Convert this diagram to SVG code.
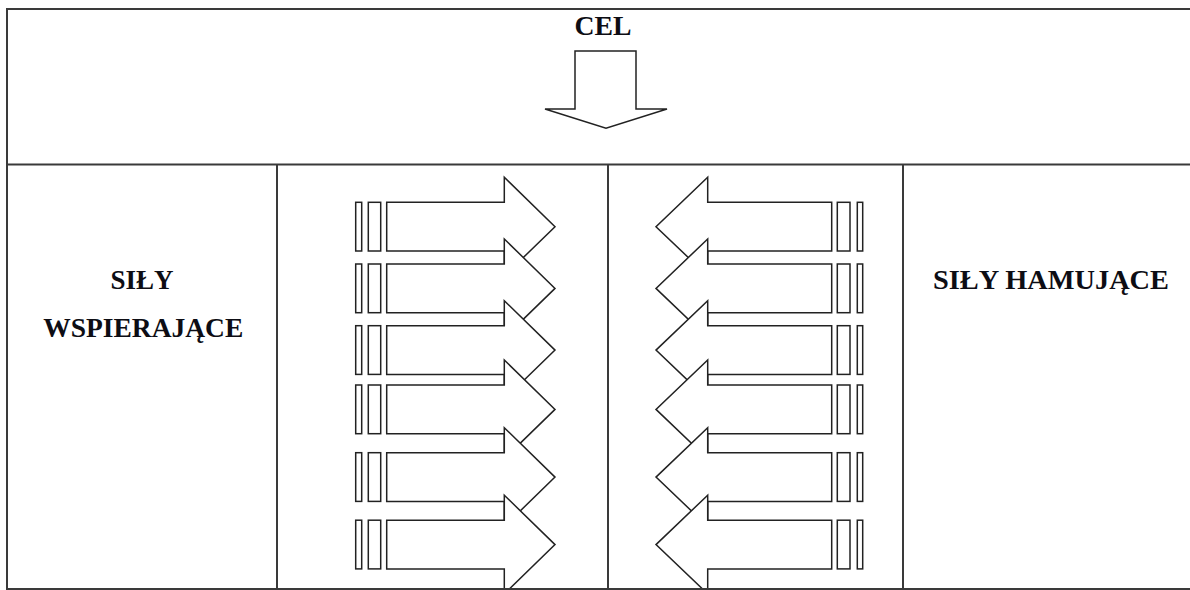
<svg xmlns="http://www.w3.org/2000/svg" xmlns:xlink="http://www.w3.org/1999/xlink" width="1190" height="590" viewBox="0 0 1190 590">
  <style>
    .grid { stroke: #3a3a3a; stroke-width: 2; fill: none; }
    .arr { fill: #ffffff; stroke: #222; stroke-width: 1.5; stroke-linejoin: miter; }
    .lbl { font-family: "Liberation Serif", "Times New Roman", serif; font-weight: bold; font-size: 27px; fill: #0d0d14; text-anchor: middle; }
  </style>
  <defs>
    <clipPath id="tableClip">
      <rect x="0" y="165" width="1190" height="423"/>
    </clipPath>
    <g id="leftArrow">
      <rect class="arr" x="355.7" y="0" width="6" height="48.7"/>
      <rect class="arr" x="368.3" y="0" width="12.4" height="48.7"/>
      <path class="arr" d="M386.7,0 H504.3 V-25 L555,24.4 L504.3,73.7 V48.7 H386.7 Z"/>
    </g>
    <g id="rightArrow">
      <rect class="arr" x="857.3" y="0" width="5.4" height="48.7"/>
      <rect class="arr" x="837.3" y="0" width="12.7" height="48.7"/>
      <path class="arr" d="M831.7,0 H707.7 V-25 L656,24.4 L707.7,73.7 V48.7 H831.7 Z"/>
    </g>
  </defs>

  <rect x="0" y="0" width="1190" height="590" fill="#ffffff"/>

  <g id="table">
    <line class="grid" x1="7" y1="9" x2="1190" y2="9"/>
    <line class="grid" x1="7" y1="164.5" x2="1190" y2="164.5"/>
    <line class="grid" x1="7" y1="589" x2="1190" y2="589"/>
    <line class="grid" x1="7" y1="8" x2="7" y2="590"/>
    <line class="grid" x1="277" y1="164.5" x2="277" y2="590"/>
    <line class="grid" x1="608" y1="164.5" x2="608" y2="590"/>
    <line class="grid" x1="903" y1="164.5" x2="903" y2="590"/>
  </g>

  <g id="cel">
    <text class="lbl" x="603" y="35" textLength="57" lengthAdjust="spacingAndGlyphs">CEL</text>
    <path class="arr" d="M575,51 H636 V109 H667 L606,128.3 L545,109 H575 Z"/>
  </g>

  <g id="sily-wspierajace">
    <text class="lbl" x="142" y="288.5" textLength="63" lengthAdjust="spacingAndGlyphs">SIŁY</text>
    <text class="lbl" x="143.3" y="337.3" textLength="200" lengthAdjust="spacingAndGlyphs">WSPIERAJĄCE</text>
  </g>

  <g id="sily-hamujace">
    <text class="lbl" x="1051" y="289" textLength="236" lengthAdjust="spacingAndGlyphs">SIŁY HAMUJĄCE</text>
  </g>

  <g id="connectors" clip-path="url(#tableClip)">
    <g id="left-arrows">
      <use xlink:href="#leftArrow" y="202.3"/>
      <use xlink:href="#leftArrow" y="264"/>
      <use xlink:href="#leftArrow" y="325.7"/>
      <use xlink:href="#leftArrow" y="385"/>
      <use xlink:href="#leftArrow" y="452.7"/>
      <use xlink:href="#leftArrow" y="520.2"/>
    </g>
    <g id="right-arrows">
      <use xlink:href="#rightArrow" y="202.3"/>
      <use xlink:href="#rightArrow" y="264"/>
      <use xlink:href="#rightArrow" y="325.7"/>
      <use xlink:href="#rightArrow" y="385"/>
      <use xlink:href="#rightArrow" y="452.7"/>
      <use xlink:href="#rightArrow" y="520.2"/>
    </g>
  </g>
</svg>
